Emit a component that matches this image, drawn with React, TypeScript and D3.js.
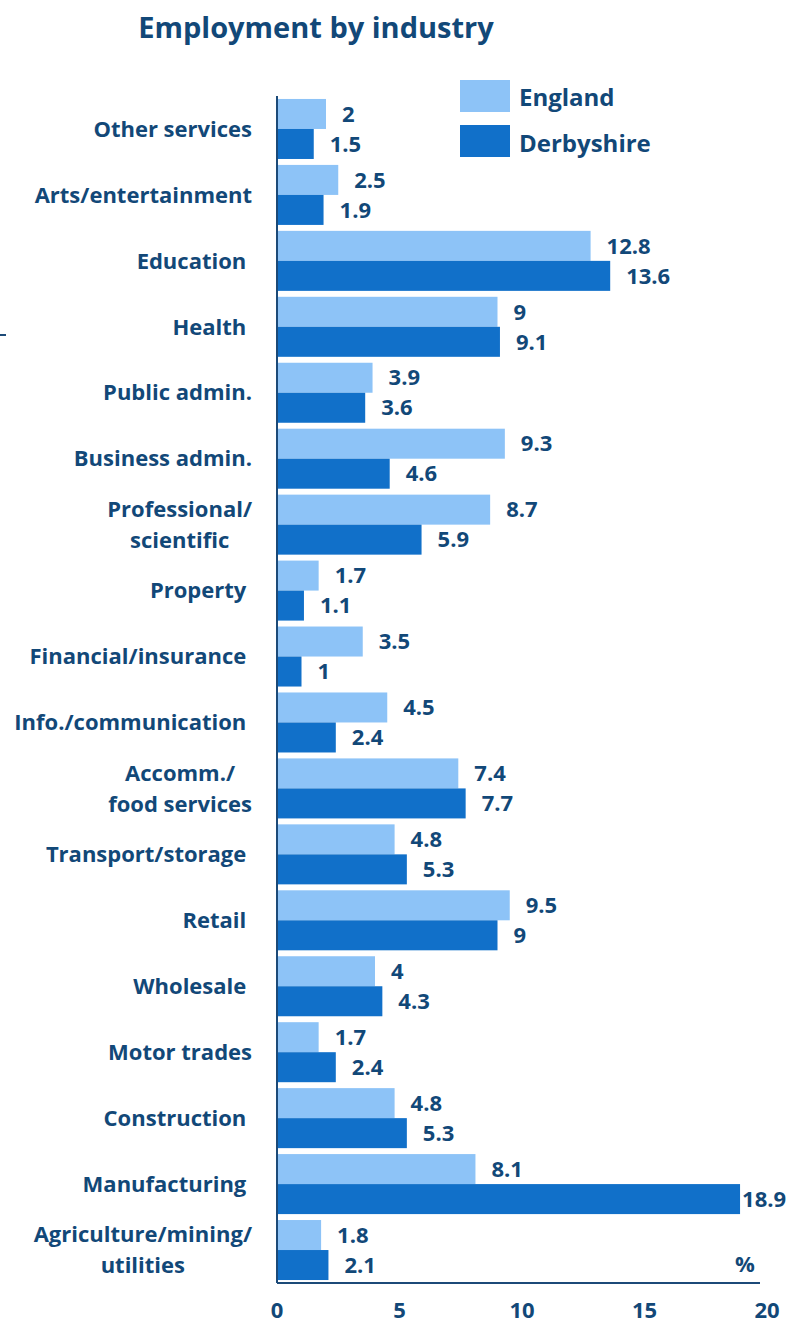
import React from "react";
import * as d3 from "d3";

const categories = [
  ["Other services"],
  ["Arts/entertainment"],
  ["Education\u00a0"],
  ["Health\u00a0"],
  ["Public admin."],
  ["Business admin."],
  ["Professional/", "scientific"],
  ["Property\u00a0"],
  ["Financial/insurance\u00a0"],
  ["Info./communication\u00a0"],
  ["Accomm./", "food services"],
  ["Transport/storage\u00a0"],
  ["Retail\u00a0"],
  ["Wholesale\u00a0"],
  ["Motor trades"],
  ["Construction\u00a0"],
  ["Manufacturing\u00a0"],
  ["Agriculture/mining/", "utilities"],
];
const england = [2, 2.5, 12.8, 9, 3.9, 9.3, 8.7, 1.7, 3.5, 4.5, 7.4, 4.8, 9.5, 4, 1.7, 4.8, 8.1, 1.8];
const derbyshire = [1.5, 1.9, 13.6, 9.1, 3.6, 4.6, 5.9, 1.1, 1, 2.4, 7.7, 5.3, 9, 4.3, 2.4, 5.3, 18.9, 2.1];
const seriesNames = ["England", "Derbyshire"];
const xTicks = [0, 5, 10, 15, 20];

const W = 795;
const H = 1326;
const left = 277;
const right = 767;
const axisEnd = 760;
const top = 96;
const bottom = 1283;
const colors = ["#8DC3F7", "#1170C9"];
const textColor = "#124878";
const axisColor = "#1C4A78";
const font = "'Open Sans', sans-serif";
const fs = 22;

function MultiLabel({ lines, rightX, cy, lineH }: { lines: string[]; rightX: number; cy: number; lineH: number }) {
  const gRef = React.useRef<SVGGElement>(null);
  React.useLayoutEffect(() => {
    const g = gRef.current;
    if (!g) return;
    const texts = Array.from(g.querySelectorAll("text")) as SVGTextElement[];
    const maxW = d3.max(texts, (t) => t.getComputedTextLength()) || 0;
    const cx = rightX - maxW / 2;
    texts.forEach((t) => t.setAttribute("x", String(cx)));
  }, [lines, rightX]);
  return (
    <g ref={gRef}>
      {lines.map((l, k) => (
        <text
          key={k}
          x={rightX}
          y={cy + (k - (lines.length - 1) / 2) * lineH}
          dy="0.35em"
          textAnchor="middle"
          fontSize={fs}
          fill={textColor}
        >
          {l}
        </text>
      ))}
    </g>
  );
}

export default function App() {
  const x = d3.scaleLinear().domain([0, 20]).range([left, right]);
  const y = d3
    .scaleBand<number>()
    .domain(d3.range(categories.length))
    .range([top, bottom])
    .paddingInner(0.09)
    .paddingOuter(0.045);
  const sub = d3.scaleBand<number>().domain([0, 1]).range([0, y.bandwidth()]);
  const series = [england, derbyshire];
  const labelRight = 252;
  const valueGap = 16;
  const valueMaxStart = 735;
  const lineH = 31;

  return (
    <svg
      width={W}
      height={H}
      style={{ position: "absolute", left: 0, top: 0, background: "#fff" }}
      fontFamily={font}
      fontWeight="bold"
    >
      <text x={316} y={38} textAnchor="middle" fontSize={29} fill={textColor}>
        Employment by industry
      </text>

      {/* stray mark */}
      <line x1={0} x2={6} y1={335} y2={335} stroke={axisColor} strokeWidth={2} />

      {series.map((vals, si) =>
        vals.map((v, i) => (
          <rect
            key={`b${si}-${i}`}
            x={x(0)}
            y={(y(i) as number) + (sub(si) as number)}
            width={x(v) - x(0)}
            height={sub.bandwidth()}
            fill={colors[si]}
          />
        ))
      )}

      {series.map((vals, si) =>
        vals.map((v, i) => (
          <text
            key={`v${si}-${i}`}
            x={Math.min(x(v) + valueGap, Math.max(x(v) + 2, valueMaxStart))}
            y={(y(i) as number) + (sub(si) as number) + sub.bandwidth() / 2}
            dy="0.35em"
            fontSize={fs}
            fill={textColor}
          >
            {String(v)}
          </text>
        ))
      )}

      {categories.map((lines, i) => {
        const cy = (y(i) as number) + y.bandwidth() / 2;
        if (lines.length === 1) {
          return (
            <text
              key={`c${i}`}
              x={labelRight}
              y={cy}
              dy="0.35em"
              textAnchor="end"
              fontSize={fs}
              fill={textColor}
              style={{ whiteSpace: "pre" }}
            >
              {lines[0]}
            </text>
          );
        }
        return <MultiLabel key={`c${i}`} lines={lines} rightX={labelRight} cy={cy} lineH={lineH} />;
      })}

      {/* axes */}
      <line x1={left} x2={left} y1={top} y2={bottom} stroke={axisColor} strokeWidth={2} />
      <line x1={left} x2={axisEnd} y1={bottom} y2={bottom} stroke={axisColor} strokeWidth={2} />

      {xTicks.map((t) => (
        <text key={`t${t}`} x={x(t)} y={1318} textAnchor="middle" fontSize={fs} fill={textColor}>
          {t}
        </text>
      ))}

      <text x={745} y={1272} textAnchor="middle" fontSize={fs} fill={textColor}>
        %
      </text>

      {/* legend */}
      {seriesNames.map((n, si) => (
        <g key={`l${si}`}>
          <rect x={460} y={80 + si * 45} width={50} height={32} fill={colors[si]} />
          <text x={519} y={106 + si * 46} fontSize={24} fill={textColor}>
            {n}
          </text>
        </g>
      ))}
    </svg>
  );
}
